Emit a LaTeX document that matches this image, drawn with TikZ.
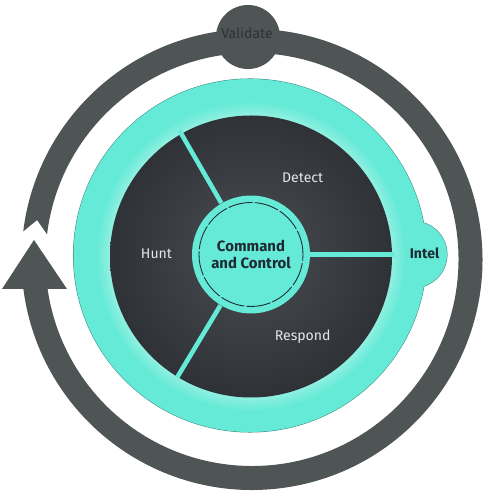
\documentclass[tikz,border=0pt]{standalone}
\usepackage{fontspec}
\setmainfont{Fira Sans}
\usepackage{tikz}
\usepackage{xcolor}
\usetikzlibrary{calc}
\definecolor{mint}     {HTML}{65EAD7}
\definecolor{mintedge} {HTML}{3E8F84}
\definecolor{slate}    {HTML}{4F5554}
\definecolor{night}    {HTML}{25282E}
\definecolor{haze}     {HTML}{4A4D50}
\definecolor{fog}      {HTML}{E4E6E8}
\definecolor{inkdark}  {HTML}{1F2A33}
\definecolor{inkgrey}  {HTML}{2C3139}

\begin{document}
\begin{tikzpicture}[x=0.02cm,y=0.02cm,
    zone/.style={font=\fontsize{8}{9.6}\selectfont,text=fog,inner sep=0pt},
    tag/.style={font=\fontsize{8}{9.6}\selectfont,text=inkgrey,inner sep=0pt},
    hub/.style={circle,fill=mint,minimum size=2.36cm,inner sep=0pt,align=center,
                font=\fontsize{8.5}{10}\selectfont\bfseries,text=inkdark},
    spoke/.style={mint,line width=2.6pt}]
  \useasboundingbox (0,0) rectangle (490,497);
  \coordinate (loopc) at (252,237.5);
  \coordinate (diskc) at (250,241.5);
  \coordinate (darkc) at (251,240.5);

  \fill[slate] ($(loopc)+(186:230.5)$) arc[start angle=186,end angle=533,radius=230.5]
    -- ($(loopc)+(169.6:218.5)$) -- ($(loopc)+(173:206.5)$)
    arc[start angle=173,end angle=-174,radius=206.5] -- cycle;
  \fill[slate] (2,208) -- (67,208) -- (34,257) -- cycle;
  \fill[slate] (248,460) circle (32);

  \draw[mintedge,line width=0.6pt] (diskc) circle (176.5);
  \draw[mintedge,line width=0.6pt] (414,242.5) circle (33);
  \fill[mint] (diskc) circle (176.5);
  \fill[mint] (414,242.5) circle (33);
  \foreach \w in {14,11,8,5,3}
    \draw[white,line width=\w pt,opacity=0.06] (darkc) circle (141);

  \begin{scope}
    \clip (darkc) circle (141);
    \shade[inner color=haze,outer color=night] (251,242.5) circle (190);
  \end{scope}

  \node[hub] (cmd) at (251,242.5) {Command\\and Control};
  \draw[inkdark,line width=0.5pt,dash pattern=on 14pt off 1.2pt] (cmd.center) circle (52);
  \foreach \a in {120,239,0}
    \draw[spoke] (cmd.\a) -- ++(\a:84);

  \node[zone] (detect)  at (302.7,319.3) {Detect};
  \node[zone] (hunt)    at (156.5,243)   {Hunt};
  \node[zone] (respond) at (302.7,160.3) {Respond};
  \node[tag]  (validate) at (247,464) {Validate};
  \node[tag,font=\fontsize{8}{9.6}\selectfont\bfseries,text=inkdark] (intel) at (424.5,244) {Intel};
\end{tikzpicture}
\end{document}
